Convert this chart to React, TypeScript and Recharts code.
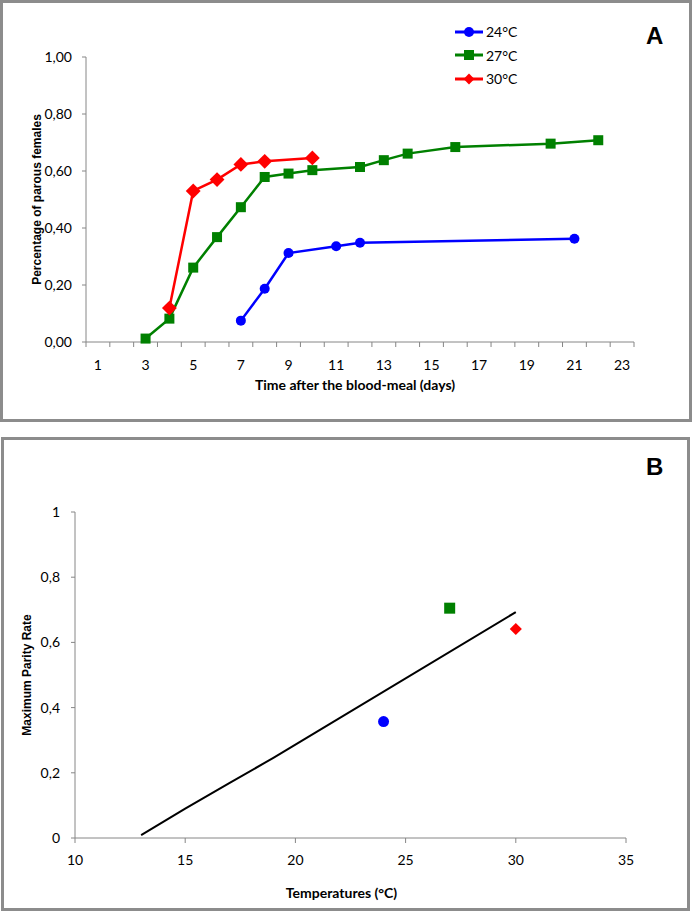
import React from 'react';
import {
  LineChart,
  Line,
  ScatterChart,
  Scatter,
  XAxis,
  YAxis,
  Legend,
} from 'recharts';

// panel A: parity over time after the blood-meal
const DAYS_24 = [7, 8, 9, 11, 12, 21];
const PAROUS_24 = [0.075, 0.187, 0.312, 0.336, 0.348, 0.362];
const DAYS_27 = [3, 4, 5, 6, 7, 8, 9, 10, 12, 13, 14, 16, 20, 22];
const PAROUS_27 = [0.012, 0.082, 0.261, 0.368, 0.473, 0.579, 0.591, 0.603, 0.614, 0.638, 0.661, 0.684, 0.696, 0.708];
const DAYS_30 = [4, 5, 6, 7, 8, 10];
const PAROUS_30 = [0.119, 0.53, 0.57, 0.623, 0.634, 0.646];
const DAY_LABELS = [1, 3, 5, 7, 9, 11, 13, 15, 17, 19, 21, 23];
const PAROUS_TICKS = [0, 0.2, 0.4, 0.6, 0.8, 1];

// panel B: maximum parity against temperature
const TEMPS = [24, 27, 30];
const MAX_PARITY = [0.357, 0.705, 0.641];
const FIT_TEMPS = [13, 15, 17, 19, 21, 30];
const FIT_RATE = [0.009, 0.09, 0.168, 0.246, 0.327, 0.693];
const TEMP_TICKS = [10, 15, 20, 25, 30, 35];
const RATE_TICKS = [0, 0.2, 0.4, 0.6, 0.8, 1];

const SERIES = [
  { key: '24', name: '24°C', color: '#0000ff', shape: 'circle', days: DAYS_24, vals: PAROUS_24 },
  { key: '27', name: '27°C', color: '#008000', shape: 'square', days: DAYS_27, vals: PAROUS_27 },
  { key: '30', name: '30°C', color: '#ff0000', shape: 'diamond', days: DAYS_30, vals: PAROUS_30 },
];

const AXIS = '#868686';
const CAL = 'Lato, "Open Sans", sans-serif';
const ARIAL = '"Liberation Sans", Arial, sans-serif';

const toRows = (xs: number[], ys: number[], xk: string, yk: string) =>
  xs.map((x, i) => ({ [xk]: x, [yk]: ys[i] }));

function marker(shape: string, cx: number, cy: number, color: string, s: number, key?: any) {
  if (shape === 'circle') return <circle key={key} cx={cx} cy={cy} r={s} fill={color} />;
  if (shape === 'square')
    return <rect key={key} x={cx - s} y={cy - s} width={s * 2} height={s * 2} fill={color} />;
  const d = s * 1.35;
  return (
    <polygon
      key={key}
      points={`${cx},${cy - d} ${cx + d},${cy} ${cx},${cy + d} ${cx - d},${cy}`}
      fill={color}
    />
  );
}

const halfTicks = Array.from({ length: 24 }, (_, i) => i + 0.5);
const dayTicks = [...halfTicks, ...DAY_LABELS].sort((a, b) => a - b);

const DayTick = (props: any) => {
  const { x, y, payload } = props;
  const v = payload.value;
  if (v % 1 !== 0) return <line x1={x} x2={x} y1={y} y2={y + 5} stroke={AXIS} />;
  if (DAY_LABELS.includes(v))
    return (
      <text x={x} y={y + 23} dy="0.35em" textAnchor="middle" fill="#000" fontSize={14} fontFamily={CAL}>
        {v}
      </text>
    );
  return <g />;
};

const renderLegend = () => (
  <div style={{ fontFamily: CAL, fontSize: 14, color: '#000' }}>
    {SERIES.map((s) => (
      <div key={s.key} style={{ display: 'flex', alignItems: 'center', height: 23.5 }}>
        <svg width={28} height={14}>
          <line x1={0} x2={28} y1={7} y2={7} stroke={s.color} strokeWidth={3} />
          {marker(s.shape, 14, 7, s.color, s.shape === 'diamond' ? 4 : 5)}
        </svg>
        <span style={{ marginLeft: 3 }}>{s.name}</span>
      </div>
    ))}
  </div>
);

const PanelA = () => (
  <LineChart width={692} height={422} margin={{ top: 57, right: 58, bottom: 32, left: 20 }}>
    <XAxis
      type="number"
      dataKey="day"
      domain={[0.5, 23.5]}
      ticks={dayTicks}
      interval={0}
      tick={<DayTick />}
      tickLine={false}
      tickSize={0}
      tickMargin={0}
      axisLine={{ stroke: AXIS }}
      height={48}
      label={{
        value: 'Time after the blood-meal (days)',
        position: 'insideBottom',
        offset: 0,
        dx: -5,
        style: { fontFamily: CAL, fontWeight: 700, fontSize: 14, fill: '#000' },
      }}
    />
    <YAxis
      type="number"
      domain={[0, 1]}
      ticks={PAROUS_TICKS}
      width={66}
      tickSize={4}
      tickMargin={10}
      tickFormatter={(v: number) => v.toFixed(2).replace('.', ',')}
      tick={{ fill: '#000', fontSize: 14, fontFamily: CAL }}
      tickLine={{ stroke: AXIS }}
      axisLine={{ stroke: AXIS }}
      label={{
        value: 'Percentage of parous females',
        angle: -90,
        position: 'insideLeft',
        offset: 17,
        style: { textAnchor: 'middle', fontFamily: ARIAL, fontWeight: 700, fontSize: 12, fill: '#000' },
      }}
    />
    <Legend
      layout="horizontal"
      verticalAlign="middle"
      align="center"
      wrapperStyle={{ top: 20, left: 455, width: 120 }}
      content={renderLegend}
    />
    {SERIES.map((s) => (
      <Line
        key={s.key}
        data={toRows(s.days, s.vals, 'day', 'v')}
        dataKey="v"
        name={s.name}
        stroke={s.color}
        strokeWidth={2.5}
        isAnimationActive={false}
        dot={(p: any) => marker(s.shape, p.cx, p.cy, s.color, s.shape === 'diamond' ? 5.5 : 5, p.index)}
        activeDot={false}
      />
    ))}
  </LineChart>
);

const PanelB = () => (
  <ScatterChart width={692} height={474} margin={{ top: 75, right: 66, bottom: 13, left: 10 }}>
    <XAxis
      type="number"
      dataKey="t"
      domain={[10, 35]}
      ticks={TEMP_TICKS}
      interval={0}
      tickSize={5}
      tickMargin={12}
      tick={{ fill: '#000', fontSize: 14, fontFamily: CAL }}
      tickLine={{ stroke: AXIS }}
      axisLine={{ stroke: AXIS }}
      height={60}
      label={{
        value: 'Temperatures (°C)',
        position: 'insideBottom',
        offset: 0,
        dx: -9,
        style: { fontFamily: CAL, fontWeight: 700, fontSize: 14, fill: '#000' },
      }}
    />
    <YAxis
      type="number"
      dataKey="r"
      domain={[0, 1]}
      ticks={RATE_TICKS}
      width={65}
      tickSize={4}
      tickMargin={11}
      tickFormatter={(v: number) => String(v).replace('.', ',')}
      tick={{ fill: '#000', fontSize: 14, fontFamily: CAL }}
      tickLine={{ stroke: AXIS }}
      axisLine={{ stroke: AXIS }}
      label={{
        value: 'Maximum Parity Rate',
        angle: -90,
        position: 'insideLeft',
        offset: 17,
        style: { textAnchor: 'middle', fontFamily: ARIAL, fontWeight: 700, fontSize: 12, fill: '#000' },
      }}
    />
    <Scatter
      data={toRows(FIT_TEMPS, FIT_RATE, 't', 'r')}
      line={{ stroke: '#000', strokeWidth: 2 }}
      shape={() => <g />}
      isAnimationActive={false}
    />
    {SERIES.map((s, i) => (
      <Scatter
        key={s.key}
        data={[{ t: TEMPS[i], r: MAX_PARITY[i] }]}
        isAnimationActive={false}
        shape={(p: any) => marker(s.shape, p.cx, p.cy, s.color, s.shape === 'diamond' ? 4.5 : 5.5)}
      />
    ))}
  </ScatterChart>
);

const frame = (top: number, left: number, width: number, height: number): React.CSSProperties => ({
  position: 'absolute',
  top,
  left,
  width,
  height,
  boxSizing: 'border-box',
  border: '3px solid #8c8c8c',
  pointerEvents: 'none',
});

const letter = (top: number): React.CSSProperties => ({
  position: 'absolute',
  top,
  left: 646,
  fontFamily: ARIAL,
  fontWeight: 700,
  fontSize: 24,
  lineHeight: '24px',
  color: '#000',
});

export default function App() {
  return (
    <div style={{ position: 'absolute', top: 0, left: 0, width: 692, height: 912, background: '#fff', fontFamily: CAL }}>
      <div style={{ position: 'absolute', top: 0, left: 0 }}>
        <PanelA />
      </div>
      <div style={{ position: 'absolute', top: 437, left: 0 }}>
        <PanelB />
      </div>
      <div style={frame(0, 0, 692, 422)} />
      <div style={frame(437, 1, 689, 474)} />
      <div style={letter(24)}>A</div>
      <div style={letter(455)}>B</div>
    </div>
  );
}
